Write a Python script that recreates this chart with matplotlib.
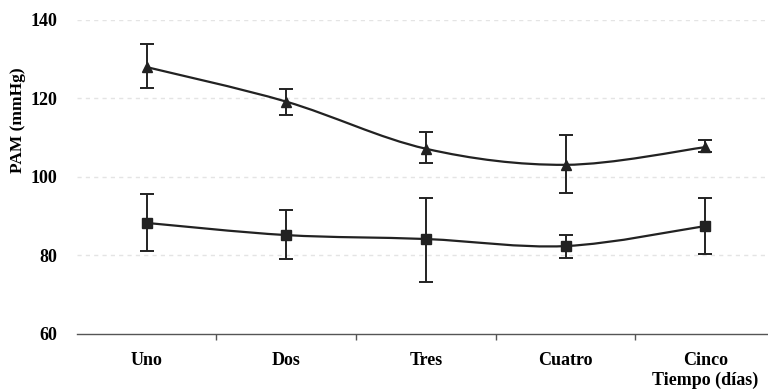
import numpy as np
import matplotlib.pyplot as plt
from matplotlib.path import Path
from matplotlib.patches import PathPatch

# datos
dias = ['Uno', 'Dos', 'Tres', 'Cuatro', 'Cinco']
pam_triangulo = [128.0, 119.2, 107.2, 103.1, 107.6]
err_tri_sup = [5.8, 3.2, 4.3, 7.5, 1.7]
err_tri_inf = [5.4, 3.4, 3.6, 7.2, 1.3]
pam_cuadro = [88.3, 85.2, 84.2, 82.4, 87.5]
err_cua_sup = [7.3, 6.3, 10.4, 2.8, 7.1]
err_cua_inf = [7.2, 6.1, 11.0, 3.0, 7.1]

plt.rcParams['font.family'] = ['Liberation Serif', 'DejaVu Serif']
plt.rcParams['font.weight'] = 'bold'


def curva_suave(x, y):
    # curva tipo Excel (Catmull-Rom convertida a Bezier)
    pts = np.column_stack([x, y]).astype(float)
    n = len(pts)
    verts = [pts[0]]
    codes = [Path.MOVETO]
    for i in range(n - 1):
        p0 = pts[i - 1] if i > 0 else pts[i]
        p1 = pts[i]
        p2 = pts[i + 1]
        p3 = pts[i + 2] if i + 2 < n else pts[i + 1]
        c1 = p1 + (p2 - p0) / 6
        c2 = p2 - (p3 - p1) / 6
        verts += [c1, c2, p2]
        codes += [Path.CURVE4] * 3
    return Path(verts, codes)


fig = plt.figure(figsize=(7.68, 3.89), dpi=100)
ax = fig.add_axes([0.1, 0.1414, 0.9, 0.8072])
x = np.arange(len(dias))

for y, ys, yi, m in [(pam_triangulo, err_tri_sup, err_tri_inf, '^'),
                     (pam_cuadro, err_cua_sup, err_cua_inf, 's')]:
    ax.add_patch(PathPatch(curva_suave(x, y), fill=False, lw=1.6, ec='#222222', zorder=3))
    ax.errorbar(x, y, yerr=[yi, ys], fmt=m, ms=7.5, color='#222222',
                ecolor='#222222', elinewidth=1.4, capsize=5, capthick=1.4, zorder=4)

ax.set_xlim(-0.5, 4.45)
ax.set_ylim(60, 140)
ax.set_yticks([60, 80, 100, 120, 140])
ax.set_xticks(x)
ax.set_xticklabels(dias, fontsize=13, fontweight='bold')
ax.set_xticks([0.5, 1.5, 2.5, 3.5], minor=True)
ax.tick_params(axis='x', which='major', length=0, pad=13)
ax.tick_params(axis='x', which='minor', length=4, width=1, color='#555555', direction='out')
ax.tick_params(axis='y', length=0, labelsize=13, pad=14)
for t in ax.get_yticklabels():
    t.set_fontweight('bold')

for v in [80, 100, 120, 140]:
    ax.axhline(v, color='#e4e4e4', lw=1, ls=(0, (3, 3)), zorder=1)

for s in ['top', 'right', 'left']:
    ax.spines[s].set_visible(False)
ax.spines['bottom'].set_color('#555555')
ax.spines['bottom'].set_linewidth(1)

ax.set_ylabel('PAM (mmHg)', fontsize=12.5, fontweight='bold')
ax.yaxis.set_label_coords(-0.074, 0.68)
fig.text(705 / 768, 1 - 380 / 389, 'Tiempo (días)', ha='center', va='center',
         fontsize=13, fontweight='bold')

fig.savefig('out.png', dpi=100)
